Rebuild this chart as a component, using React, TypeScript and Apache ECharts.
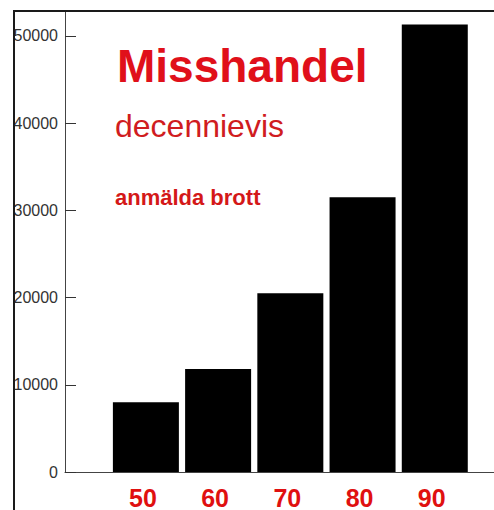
import React, { useEffect, useRef } from "react";
import * as echarts from "echarts";

const decades = [50, 60, 70, 80, 90];
const reported = [8000, 11800, 20500, 31500, 51300];
const yTicks = [0, 10000, 20000, 30000, 40000, 50000];
const titleMain = "Misshandel";
const titleSub = "decennievis";
const titleNote = "anmälda brott";

export default function App() {
  const ref = useRef<HTMLDivElement>(null);
  useEffect(() => {
    if (!ref.current) return;
    const chart = echarts.init(ref.current, null, { renderer: "svg" });
    chart.setOption({
      animation: false,
      backgroundColor: "#ffffff",
      grid: { left: 65, right: 0, top: 11, bottom: 37, containLabel: false },
      xAxis: {
        type: "value",
        min: 38.8,
        max: 98.2,
        splitLine: { show: false },
        axisTick: { show: false },
        axisLine: { show: true, onZero: false, lineStyle: { color: "#444", width: 1 } },
        axisLabel: {
          customValues: decades,
          margin: 13,
          color: "#e01010",
          fontFamily: "Liberation Sans",
          fontWeight: "bold",
          fontSize: 25,
          padding: [0, 6, 0, 0],
          formatter: (v: number) => String(v),
        },
      },
      yAxis: {
        type: "value",
        min: 0,
        max: 52860,
        interval: 10000,
        splitLine: { show: false },
        axisLine: { show: true, lineStyle: { color: "#444", width: 1 } },
        axisTick: {
          show: true,
          inside: true,
          length: 11,
          lineStyle: { color: "#333", width: 1 },
        },
        axisLabel: {
          showMaxLabel: false,
          margin: 7,
          color: "#333",
          fontFamily: "Liberation Sans",
          fontSize: 16,
          padding: [4, 0, 0, 0],
          formatter: (v: number) => (yTicks.indexOf(v) >= 0 ? String(v) : ""),
        },
      },
      series: [
        {
          type: "bar",
          data: decades.map((d, i) => [d, reported[i]]),
          barWidth: 66,
          itemStyle: { color: "#000000" },
        },
      ],
      graphic: [
        {
          type: "text",
          x: 117,
          y: 66,
          z: 10,
          style: {
            text: titleMain,
            font: "bold 46px 'Liberation Sans', Arial, sans-serif",
            fill: "#e0101a",
            align: "left",
            verticalAlign: "middle",
          },
        },
        {
          type: "text",
          x: 115,
          y: 126,
          z: 10,
          style: {
            text: titleSub,
            font: "32px 'Liberation Sans', Arial, sans-serif",
            fill: "#d01c20",
            align: "left",
            verticalAlign: "middle",
          },
        },
        {
          type: "text",
          x: 115,
          y: 197,
          z: 10,
          style: {
            text: titleNote,
            font: "bold 22px 'Liberation Sans', Arial, sans-serif",
            fill: "#d41818",
            align: "left",
            verticalAlign: "middle",
          },
        },
        {
          type: "line",
          z: 20,
          shape: { x1: 13, y1: 11, x2: 494, y2: 11 },
          style: { stroke: "#1a1a1a", lineWidth: 2 },
        },
        {
          type: "line",
          z: 20,
          shape: { x1: 14, y1: 10, x2: 14, y2: 510 },
          style: { stroke: "#1a1a1a", lineWidth: 2 },
        },
      ],
    });
    return () => chart.dispose();
  }, []);
  return (
    <div
      ref={ref}
      style={{ position: "absolute", left: 0, top: 0, width: 494, height: 510 }}
    />
  );
}
